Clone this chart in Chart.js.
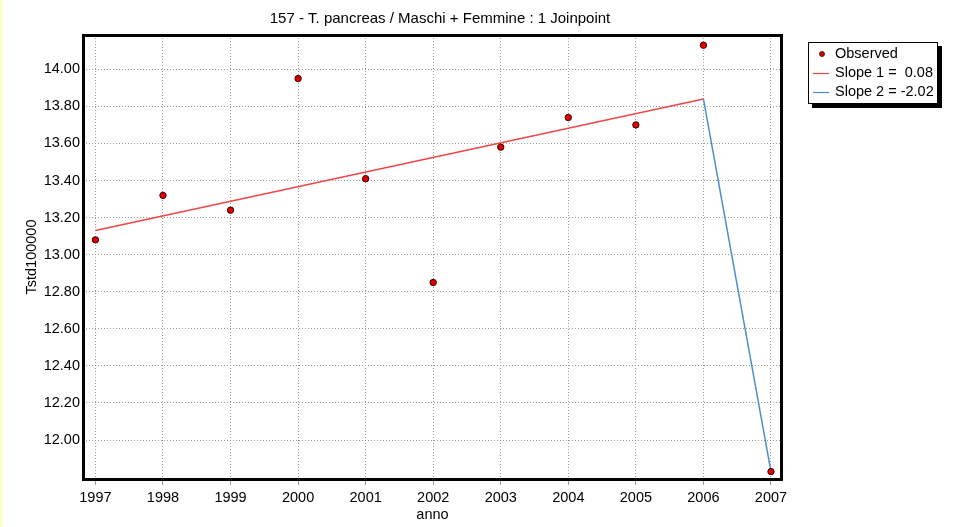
<!DOCTYPE html>
<html>
<head>
<meta charset="utf-8">
<script src="https://cdn.jsdelivr.net/npm/chart.js@4/dist/chart.umd.min.js"></script>
<style>
  html, body { margin:0; padding:0; background:#fff; }
  #wrap { position:relative; width:964px; height:527px;
          background: linear-gradient(to right, #ffffcc 0, #ffffcc 3px, #ffffff 3px); }
  canvas { display:block; }
</style>
</head>
<body>
<div id="wrap"><canvas id="c" width="964" height="527"></canvas></div>
<script>
// ---- data ----
const chartTitle = '157 - T. pancreas / Maschi + Femmine : 1 Joinpoint';
const xTitle = 'anno';
const yTitle = 'Tstd100000';
const years = [1997, 1998, 1999, 2000, 2001, 2002, 2003, 2004, 2005, 2006, 2007];
const observed = [13.08, 13.32, 13.24, 13.95, 13.41, 12.85, 13.58, 13.74, 13.70, 14.13, 11.83];
const slope1Years = [1997, 2006];
const slope1Values = [13.13, 13.84];
const slope2Years = [2006, 2007];
const slope2Values = [13.84, 11.83];
const yTicks = [12.00, 12.20, 12.40, 12.60, 12.80, 13.00, 13.20, 13.40, 13.60, 13.80, 14.00];
const seriesLabels = ['Observed', 'Slope 1 =  0.08', 'Slope 2 = -2.02'];

const FONT = '"Liberation Sans", Arial, Helvetica, sans-serif';
const xMin = 1996.816, xMax = 2007.163;
const yMin = 11.79, yMax = 14.185;

const toXY = (xs, ys) => xs.map((x, i) => ({x: x, y: ys[i]}));

const framePlugin = {
  id: 'frame',
  afterDraw(chart) {
    const {ctx, chartArea: a} = chart;
    ctx.save();
    ctx.strokeStyle = '#000';
    ctx.lineWidth = 3;
    ctx.strokeRect(a.left + 0.5, a.top + 0.5, a.right - a.left - 1, a.bottom - a.top);
    ctx.fillStyle = '#000';
    ctx.font = '15px ' + FONT;
    ctx.textAlign = 'center';
    ctx.textBaseline = 'middle';
    ctx.fillText(chartTitle, 440, 19);
    const bx = 808, by = 42, bw = 129, bh = 61;
    ctx.fillStyle = '#000';
    ctx.fillRect(bx + 4, by + 4, bw + 1, bh + 1);
    ctx.fillStyle = '#fff';
    ctx.fillRect(bx, by, bw, bh);
    ctx.strokeStyle = '#000';
    ctx.lineWidth = 1;
    ctx.strokeRect(bx + 0.5, by + 0.5, bw, bh);
    const ds = chart.data.datasets;
    const rows = [54, 73, 92];
    ctx.font = '14.5px ' + FONT;
    ctx.textAlign = 'left';
    ctx.textBaseline = 'middle';
    ds.forEach((d, i) => {
      const y = rows[i];
      if (i === 0) {
        ctx.beginPath();
        ctx.arc(822, y, 2.5, 0, Math.PI * 2);
        ctx.fillStyle = d.backgroundColor;
        ctx.fill();
        ctx.strokeStyle = d.borderColor; ctx.lineWidth = 0.8; ctx.stroke();
      } else {
        ctx.beginPath();
        ctx.moveTo(813, y + 0.5); ctx.lineTo(829, y + 0.5);
        ctx.strokeStyle = d.borderColor; ctx.lineWidth = 1.2; ctx.stroke();
      }
      ctx.fillStyle = '#000';
      ctx.fillText(d.label, 835, y);
    });
    ctx.restore();
  }
};

new Chart(document.getElementById('c'), {
  type: 'scatter',
  data: {
    datasets: [
      { label: seriesLabels[0], data: toXY(years, observed), showLine: false,
        pointRadius: 3.2, pointBackgroundColor: '#e00000', pointBorderColor: '#3a0000',
        backgroundColor: '#e00000', borderColor: '#3a0000', pointBorderWidth: 1, order: 0 },
      { label: seriesLabels[1], data: toXY(slope1Years, slope1Values), showLine: true,
        borderColor: '#f04646', borderWidth: 1.5, pointRadius: 0, order: 2 },
      { label: seriesLabels[2], data: toXY(slope2Years, slope2Values), showLine: true,
        borderColor: '#4a8fcb', borderWidth: 1.5, pointRadius: 0, order: 1 }
    ]
  },
  options: {
    responsive: false,
    animation: false,
    layout: { padding: { top: 35, right: 182, left: 0, bottom: 0 } },
    plugins: { legend: { display: false }, title: { display: false }, tooltip: { enabled: false } },
    scales: {
      x: {
        type: 'linear', min: xMin, max: xMax,
        afterBuildTicks: s => { s.ticks = years.map(v => ({ value: v })); },
        afterFit: s => { s.height = 48; },
        grid: { color: '#9a9a9a', lineWidth: 1, tickLength: 6, drawTicks: true },
        border: { display: false, dash: [1, 2] },
        ticks: { color: '#000', font: { family: FONT, size: 14.5 }, padding: 4,
                 maxRotation: 0, autoSkip: false, callback: v => String(v) },
        title: { display: true, text: xTitle, color: '#000', font: { family: FONT, size: 14.5 },
                 padding: { top: 0, bottom: 3 } }
      },
      y: {
        type: 'linear', min: yMin, max: yMax,
        afterBuildTicks: s => { s.ticks = yTicks.map(v => ({ value: v })); },
        afterFit: s => { s.width = 83; },
        grid: { color: '#9a9a9a', lineWidth: 1, drawTicks: false },
        border: { display: false, dash: [1, 2] },
        ticks: { color: '#000', font: { family: FONT, size: 14.5 }, padding: 3,
                 autoSkip: false, callback: v => Number(v).toFixed(2) },
        title: { display: true, text: yTitle, color: '#000', font: { family: FONT, size: 14.5 },
                 padding: { top: 23, bottom: 0 } }
      }
    }
  },
  plugins: [framePlugin]
});
</script>
</body>
</html>
